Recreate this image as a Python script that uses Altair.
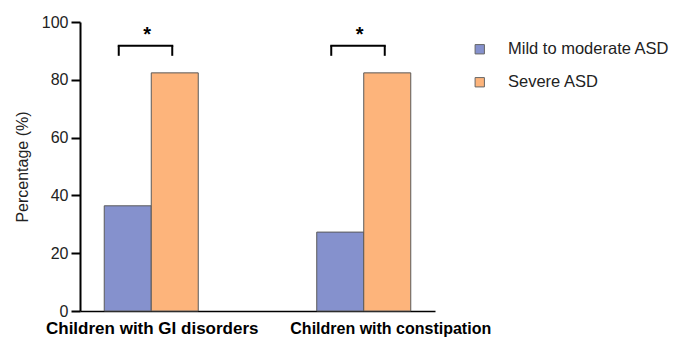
import altair as alt
import pandas as pd

categories = ["Children with GI disorders", "Children with constipation"]
series = ["Mild to moderate ASD", "Severe ASD"]
mild = [36.4, 27.3]
severe = [82.4, 82.4]
sig_labels = ["*", "*"]
bracket_top = [91.8, 91.8]
bracket_bottom = [88.3, 88.3]
star_level = [93.3, 93.3]
colors = ["#8591CD", "#FDB47B"]

FONT = "Liberation Sans"

rows = []
for c, m, s in zip(categories, mild, severe):
    rows.append({"group": c, "series": series[0], "value": m})
    rows.append({"group": c, "series": series[1], "value": s})
bars_df = pd.DataFrame(rows)
sig_df = pd.DataFrame({"group": categories, "top": bracket_top,
                       "bottom": bracket_bottom, "star": star_level,
                       "label": sig_labels})

x_axis = alt.Axis(
    labelAngle=0, ticks=False, tickSize=0, domainColor="black", domainWidth=1.5,
    labelFont=FONT, labelFontWeight="bold", labelColor="black",
    labelBaseline="alphabetic", labelPadding=22, labelLimit=0,
    labelOverlap=False, labelBound=False,
    labelFontSize={"condition": {"test": f"datum.value === '{categories[0]}'", "value": 17}, "value": 16},
    labelOffset={"condition": {"test": f"datum.value === '{categories[1]}'", "value": 27}, "value": 1},
)
x_enc = alt.X("group:N", sort=categories, title=None,
              scale=alt.Scale(paddingInner=0.5576, paddingOuter=0.1141),
              axis=x_axis)
x_plain = alt.X("group:N", sort=categories, title=None)

y_axis = alt.Axis(
    values=[0, 20, 40, 60, 80, 100], grid=False, domainColor="black", domainWidth=2,
    tickColor="black", tickWidth=2, tickSize=9, labelPadding=3, labelFontSize=16,
    labelFont=FONT, labelColor="#222222", titleFont=FONT, titleFontSize=16,
    titleFontWeight="normal", titleColor="#222222", titleX=-50, titleY=144.5,
    titleAngle=270, titleAlign="center", titleBaseline="bottom",
)

bars = alt.Chart(bars_df).mark_bar(stroke="#5a5a5a", strokeWidth=1).encode(
    x=x_enc,
    xOffset=alt.XOffset("series:N", sort=series,
                        scale=alt.Scale(paddingInner=0, paddingOuter=0)),
    y=alt.Y("value:Q", title="Percentage (%)",
            scale=alt.Scale(domain=[0, 100], nice=False), axis=y_axis),
    color=alt.Color("series:N", sort=series,
                    scale=alt.Scale(domain=series, range=colors),
                    legend=alt.Legend(title=None, orient="none", legendX=391.5, legendY=19,
                                      symbolType="square", symbolSize=87,
                                      symbolStrokeColor="#666666", symbolStrokeWidth=1,
                                      labelFont=FONT, labelFontSize=16.5,
                                      labelColor="#222222", labelOffset=20,
                                      rowPadding=16, labelLimit=0)),
)

hline = alt.Chart(sig_df).mark_tick(orient="horizontal", size=55.5, thickness=2,
                                    color="black", opacity=1, xOffset=-5.75).encode(
    x=x_plain, y=alt.Y("top:Q", title="Percentage (%)"))

left_leg = alt.Chart(sig_df).mark_rule(color="black", strokeWidth=2, xOffset=-32.5).encode(
    x=x_plain, y=alt.Y("top:Q", title="Percentage (%)"), y2="bottom:Q")

right_leg = alt.Chart(sig_df).mark_rule(color="black", strokeWidth=2, xOffset=21).encode(
    x=x_plain, y=alt.Y("top:Q", title="Percentage (%)"), y2="bottom:Q")

stars = alt.Chart(sig_df).mark_text(fontSize=20, fontWeight="bold", dx=-4,
                                    baseline="alphabetic", font=FONT,
                                    color="black").encode(
    x=x_plain, y=alt.Y("star:Q", title="Percentage (%)"), text="label:N")

chart = alt.layer(bars, hline, left_leg, right_leg, stars).properties(
    width=355, height=289,
    padding={"left": 72, "top": 14, "right": 236, "bottom": 26},
    autosize="none",
).configure_view(stroke=None)

chart.save("out.html", embed_options={"renderer": "svg", "actions": False})
